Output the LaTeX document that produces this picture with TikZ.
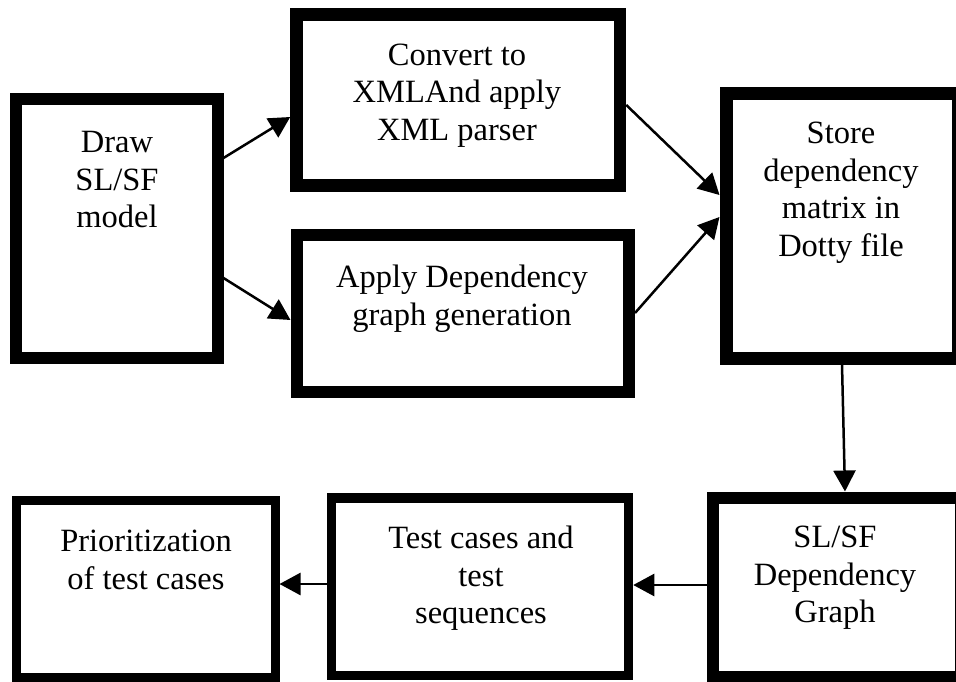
\documentclass[tikz,border=0pt]{standalone}
\usepackage{fontspec}
\setmainfont{Liberation Serif}
\usetikzlibrary{arrows.meta}
\newcommand{\myst}{\rule{0pt}{25pt}}
\tikzset{
  box/.style={draw=black, fill=white, inner sep=0pt, rectangle},
  lbl/.style={anchor=north, inner sep=0pt, align=center, text=black,
    font={\fontsize{32.5}{37.8}\selectfont}},
  conn/.style={draw=black, line width=2.5pt, -{Triangle[length=21pt,width=22pt]}}
}
\begin{document}
\begin{tikzpicture}[x=1pt,y=-1pt]
\useasboundingbox[fill=white] (0,0) rectangle (956,682);
% boxes (line-centre geometry)
\node[box, line width=12pt, minimum width=201.5pt, minimum height=259pt] (b1) at (116.75,228.5) {};
\node[box, line width=12.5pt, minimum width=323.5pt, minimum height=171pt] (b2) at (458.25,100) {};
\node[box, line width=12pt, minimum width=332.5pt, minimum height=157pt] (b3) at (462.75,313) {};
\node[box, line width=13pt, minimum width=232pt, minimum height=264.5pt] (b4) at (842,225.75) {};
\node[box, line width=12pt, minimum width=248pt, minimum height=179.5pt] (b5) at (837,587.25) {};
\node[box, line width=9.5pt, minimum width=297pt, minimum height=177.5pt] (b6) at (480,586.75) {};
\node[box, line width=9pt, minimum width=258.5pt, minimum height=177.5pt] (b7) at (145.75,588.75) {};
% labels
\node[lbl] (t1) at (117,127) {\myst Draw\\SL/SF\\model};
\node[lbl] (t2) at (457,40) {\myst Convert to\\XMLAnd apply\\XML parser};
\node[lbl] (t3) at (462,262) {\myst Apply Dependency\\graph generation};
\node[lbl] (t4) at (841,118) {\myst Store\\dependency\\matrix in\\Dotty file};
\node[lbl] (t5) at (835,522) {\myst SL/SF\\Dependency\\Graph};
\node[lbl] (t6) at (481,523) {\myst Test cases and\\test\\sequences};
\node[lbl] (t7) at (146,526) {\myst Prioritization\\of test cases};
% connectors
\draw[conn] (b1.east |- 0,158) -- (b2.west |- 0,117);
\draw[conn] (b1.east |- 0,278) -- (b3.west |- 0,320);
\draw[conn] (b2.east |- 0,105) -- (b4.west |- 0,195);
\draw[conn] (b3.east |- 0,313) -- (b4.west |- 0,217);
\draw[conn] (b4.south -| 842,0) -- (b5.north -| 845,0);
\draw[conn] (b5.west |- 0,585) -- (b6.east |- 0,585);
\draw[conn] (b6.west |- 0,584) -- (b7.east |- 0,584);
\end{tikzpicture}
\end{document}
